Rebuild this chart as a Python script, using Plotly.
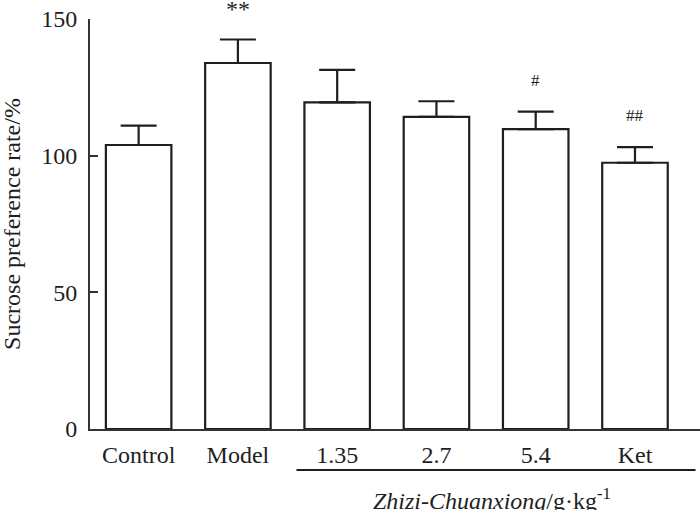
import plotly.graph_objects as go

categories = ["Control", "Model", "1.35", "2.7", "5.4", "Ket"]
values = [103.9, 133.9, 119.5, 114.2, 109.7, 97.4]
errors = [7.1, 8.6, 11.9, 5.7, 6.4, 5.7]
marks = ["", "**", "", "", "#", "##"]
y_ticks = [0, 50, 100, 150]
y_title = "Sucrose preference rate/%"
group_label = "<i>Zhizi-Chuanxiong</i>/g·kg<sup>-1</sup>"

FONT = "Liberation Serif, Times New Roman, serif"
INK = "#1e1e1e"

fig = go.Figure()
fig.add_trace(go.Bar(
    x=list(range(len(categories))),
    y=values,
    width=0.66,
    marker=dict(color="white", line=dict(color=INK, width=2.2)),
    error_y=dict(type="data", symmetric=False, array=errors,
                 arrayminus=[0] * len(errors), color=INK, thickness=2.2, width=18),
    showlegend=False,
    hoverinfo="skip",
))

for i, (m, v, e) in enumerate(zip(marks, values, errors)):
    if not m:
        continue
    big = m.startswith("*")
    fig.add_annotation(x=i, y=v + e, text=m, showarrow=False, xref="x", yref="y",
                       yanchor="bottom", yshift=(16 if big else 20),
                       font=dict(family=FONT, size=(24 if big else 17), color=INK))

# group bracket line under the dose categories
fig.add_shape(type="line", xref="x", yref="paper", x0=2 - 0.41, x1=5 + 0.61,
              y0=-0.1, y1=-0.1, line=dict(color=INK, width=2))
fig.add_annotation(x=3.56, y=-0.17, xref="x", yref="paper", text=group_label,
                   showarrow=False, yanchor="middle",
                   font=dict(family=FONT, size=24, color=INK))

# y-axis title
fig.add_annotation(x=-0.128, y=0.5, xref="paper", yref="paper", text=y_title,
                   textangle=-90, showarrow=False, xanchor="center", yanchor="middle",
                   font=dict(family=FONT, size=24, color=INK))

fig.update_layout(
    width=700, height=510,
    margin=dict(l=90, r=0, t=19, b=81),
    paper_bgcolor="white", plot_bgcolor="white",
    font=dict(family=FONT, size=24, color=INK),
    bargap=0.34,
)
fig.update_xaxes(
    range=[-0.49, 5.655], automargin=False,
    tickmode="array", tickvals=list(range(len(categories))), ticktext=categories,
    showline=True, linecolor="#333", linewidth=2, ticks="", showgrid=False,
    zeroline=False, ticklabelstandoff=3,
    tickfont=dict(family=FONT, size=24, color=INK),
)
fig.update_yaxes(
    range=[0, 150], tickmode="array", tickvals=y_ticks, automargin=False,
    showline=True, linecolor="#333", linewidth=2, ticks="inside", ticklen=8,
    tickwidth=2, tickcolor="#333", showgrid=False, zeroline=False,
    ticklabelstandoff=6,
    tickfont=dict(family=FONT, size=24, color=INK),
)

fig.write_html("out.html", config={"displayModeBar": False},
               post_script="document.body.style.margin='0px';")
